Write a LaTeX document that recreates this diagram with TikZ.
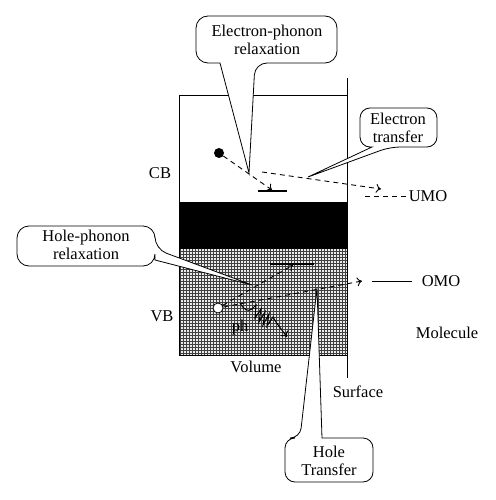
\documentclass[tikz,border=0pt]{standalone}
\usepackage{fontspec}
\setmainfont{Liberation Serif}
\usetikzlibrary{arrows.meta,patterns}
\begin{document}
\begin{tikzpicture}[x=1pt,y=-1pt,
  lbl/.style={font=\fontsize{16.5}{18}\selectfont, inner sep=0pt, align=center},
  callout/.style={draw, line width=0.8pt, fill=white},
  dsh/.style={dashed, dash pattern=on 5pt off 4pt, line width=0.9pt},
  tip/.style={-{To[length=5pt,width=9pt]}},
  bar/.style={line width=1.4pt}]
\useasboundingbox (0,0) rectangle (495,500);
% box regions
\fill[white] (179,95) rectangle (347,202);
\fill[black] (179,202) rectangle (347,249);
\fill[black!8] (179,249) rectangle (347,355);
\fill[pattern=grid, pattern color=black!75] (179,249) rectangle (347,355);
\draw[line width=0.9pt] (179,355) -- (179,95) -- (347,95);
\draw[line width=0.9pt] (179,355) -- (347,355);
% surface line
\coordinate (stop) at (347,78);
\coordinate (sbot) at (347,378);
\draw[line width=0.9pt] (stop) -- (sbot);
% labels
\node[lbl] (cb) at (160,173) {CB};
\node[lbl] (vb) at (162,316) {VB};
\node[lbl] (vol) at (256,367) {Volume};
\node[lbl] (surf) at (358,392) {Surface};
\node[lbl] (mol) at (447,333) {Molecule};
\node[lbl] (umo) at (428,196) {UMO};
\node[lbl] (omo) at (441,281) {OMO};
% electron
\node[circle, fill=black, inner sep=0pt, minimum size=10pt] (el) at (219,153) {};
\coordinate (elend) at (272,190);
\draw[dsh,tip] (el) -- (elend);
\coordinate (ebarL) at (258,191);
\coordinate (ebarR) at (287,191);
\draw[bar] (ebarL) -- (ebarR);
% electron transfer
\coordinate (etA) at (262,172);
\coordinate (etB) at (381,189);
\draw[dsh,tip] (etA) -- (etB);
\coordinate (umoA) at (365,196);
\draw[dsh] (umoA) -- (umo.west);
% hole
\node[circle, draw, fill=white, line width=0.8pt, inner sep=0pt, minimum size=10pt] (hole) at (218,308) {};
\coordinate (hUp) at (293,265);
\draw[dsh,tip] (hole) -- (hUp);
\coordinate (hbarL) at (270,264);
\coordinate (hbarR) at (314,264);
\draw[bar] (hbarL) -- (hbarR);
\coordinate (hOmo) at (362,281);
\draw[dsh,tip] (hole) -- (hOmo);
\coordinate (omoA) at (372,281);
\draw[line width=0.8pt] (omoA) -- ([xshift=-10pt]omo.west);
% phonon
\coordinate (phA) at (240,303);
\coordinate (phB) at (287,337);
\draw[line width=1pt, tip] (phA) .. controls (244,310) and (248,312) .. (252,309)
  -- (256,305) -- (255,318) -- (261,309) -- (259,322) -- (265,312) -- (263,325)
  -- (269,314) -- (267,326) -- (273,317) -- (276,322) -- (phB);
\node[lbl] (ph) at (240,328) {ph};
% callouts
\draw[callout, rounded corners=12pt] (220,63) -- (196,63) -- (196,16) -- (337,16) -- (337,63) -- (255,63) [sharp corners] -- (249,173) -- cycle;
\node[lbl] (ep) at (267,40) {Electron-phonon\\relaxation};
\draw[callout, rounded corners=10pt] (372,147) -- (360,147) -- (360,108) -- (437,108) -- (437,147) -- (390,147) [sharp corners] -- (308,177) -- cycle;
\node[lbl] (et) at (398,128) {Electron\\transfer};
\draw[callout, rounded corners=12pt] (155,260) -- (155,266) -- (17,266) -- (17,226) -- (155,226) -- (155,249) [sharp corners] -- (252,285) -- cycle;
\node[lbl] (hp) at (86,245) {Hole-phonon\\relaxation};
\draw[callout, rounded corners=10pt] (322,438) -- (373,438) -- (373,482) -- (285,482) -- (285,438) -- (300,438) [sharp corners] -- (317,288) -- cycle;
\node[lbl] (ht) at (329,461) {Hole\\Transfer};
\end{tikzpicture}
\end{document}
